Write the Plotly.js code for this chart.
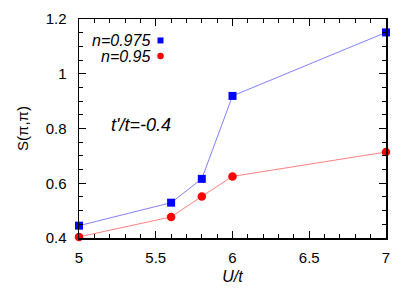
<!DOCTYPE html>
<html><head><meta charset="utf-8">
<script src="https://cdn.plot.ly/plotly-3.0.1.min.js"></script>
<style>html,body{margin:0;padding:0;background:#fff}#chart{width:415px;height:291px}</style>
</head><body><div id="chart"></div>
<script>
const U = [5, 5.6, 5.8, 6, 7];
const S_n0975 = [0.445, 0.529, 0.616, 0.919, 1.151];
const S_n095 = [0.404, 0.477, 0.552, 0.625, 0.714];
const seriesNames = ["n=0.975", "n=0.95"];
const xTicks = [5, 5.5, 6, 6.5, 7];
const yTicks = [0.4, 0.6, 0.8, 1, 1.2];
const yTickText = ["0.4", "0.6", "0.8", "1", "1.2"];

const fam = "Liberation Sans, Arial, sans-serif";
const tickFont = {family: fam, size: 15, color: "#000"};
const font16 = {family: fam, size: 16, color: "#000"};
const traces = [
  {x: U, y: S_n0975, mode: "lines+markers", name: seriesNames[0],
   line: {color: "#8080ff", width: 1}, marker: {symbol: "square", size: 8, color: "#0000ff"}, cliponaxis: false},
  {x: U, y: S_n095, mode: "lines+markers", name: seriesNames[1],
   line: {color: "#ff8080", width: 1}, marker: {symbol: "circle", size: 8.5, color: "#ff0000"}, cliponaxis: false}
];
const axisCommon = {showline: true, linecolor: "#000", linewidth: 1.5, mirror: "allticks", ticks: "inside",
  ticklen: 7, tickwidth: 1, tickcolor: "#000", showgrid: false, zeroline: false, tickfont: tickFont};
const layout = {
  width: 415, height: 291, margin: {l: 79, r: 29, t: 19, b: 52.5},
  paper_bgcolor: "#fff", plot_bgcolor: "#fff", showlegend: false, font: tickFont,
  xaxis: Object.assign({}, axisCommon, {range: [5, 7], tickvals: xTicks, ticktext: xTicks.map(String),
    ticklabelstandoff: 5,
    minor: {dtick: 0.1, tick0: 5, ticks: "inside", ticklen: 4, tickcolor: "#000", tickwidth: 1, showgrid: false},
    title: {text: "<i>U/t</i>", font: font16, standoff: 6}}),
  yaxis: Object.assign({}, axisCommon, {range: [0.4, 1.2], tickvals: yTicks, ticktext: yTickText,
    ticklabelstandoff: 8,
    minor: {dtick: 0.05, tick0: 0.4, ticks: "inside", ticklen: 4, tickcolor: "#000", tickwidth: 1, showgrid: false},
    title: {text: "S(π,π)", font: {family: fam, size: 15, color: "#000"}, standoff: 13}}),
  annotations: [
    {xref: "paper", yref: "paper", x: 0.2368, y: 0.902, xanchor: "right", yanchor: "middle", showarrow: false,
     text: "<i>" + seriesNames[0] + "</i>", font: font16},
    {xref: "paper", yref: "paper", x: 0.2368, y: 0.831, xanchor: "right", yanchor: "middle", showarrow: false,
     text: "<i>" + seriesNames[1] + "</i>", font: font16},
    {xref: "paper", yref: "paper", x: 0.203, y: 0.518, xanchor: "center", yanchor: "middle", showarrow: false,
     text: "<i>t'/t=-0.4</i>", font: {family: fam, size: 18, color: "#000"}}
  ],
  shapes: [
    {type: "rect", xref: "paper", yref: "paper", x0: 0.2557, x1: 0.2752, y0: 0.8884, y1: 0.9157,
     fillcolor: "#0000ff", line: {width: 0}},
    {type: "circle", xref: "paper", yref: "paper", x0: 0.2549, x1: 0.2761, y0: 0.8166, y1: 0.8462,
     fillcolor: "#ff0000", line: {width: 0}}
  ]
};
Plotly.newPlot("chart", traces, layout, {staticPlot: true, displayModeBar: false});
</script></body></html>
